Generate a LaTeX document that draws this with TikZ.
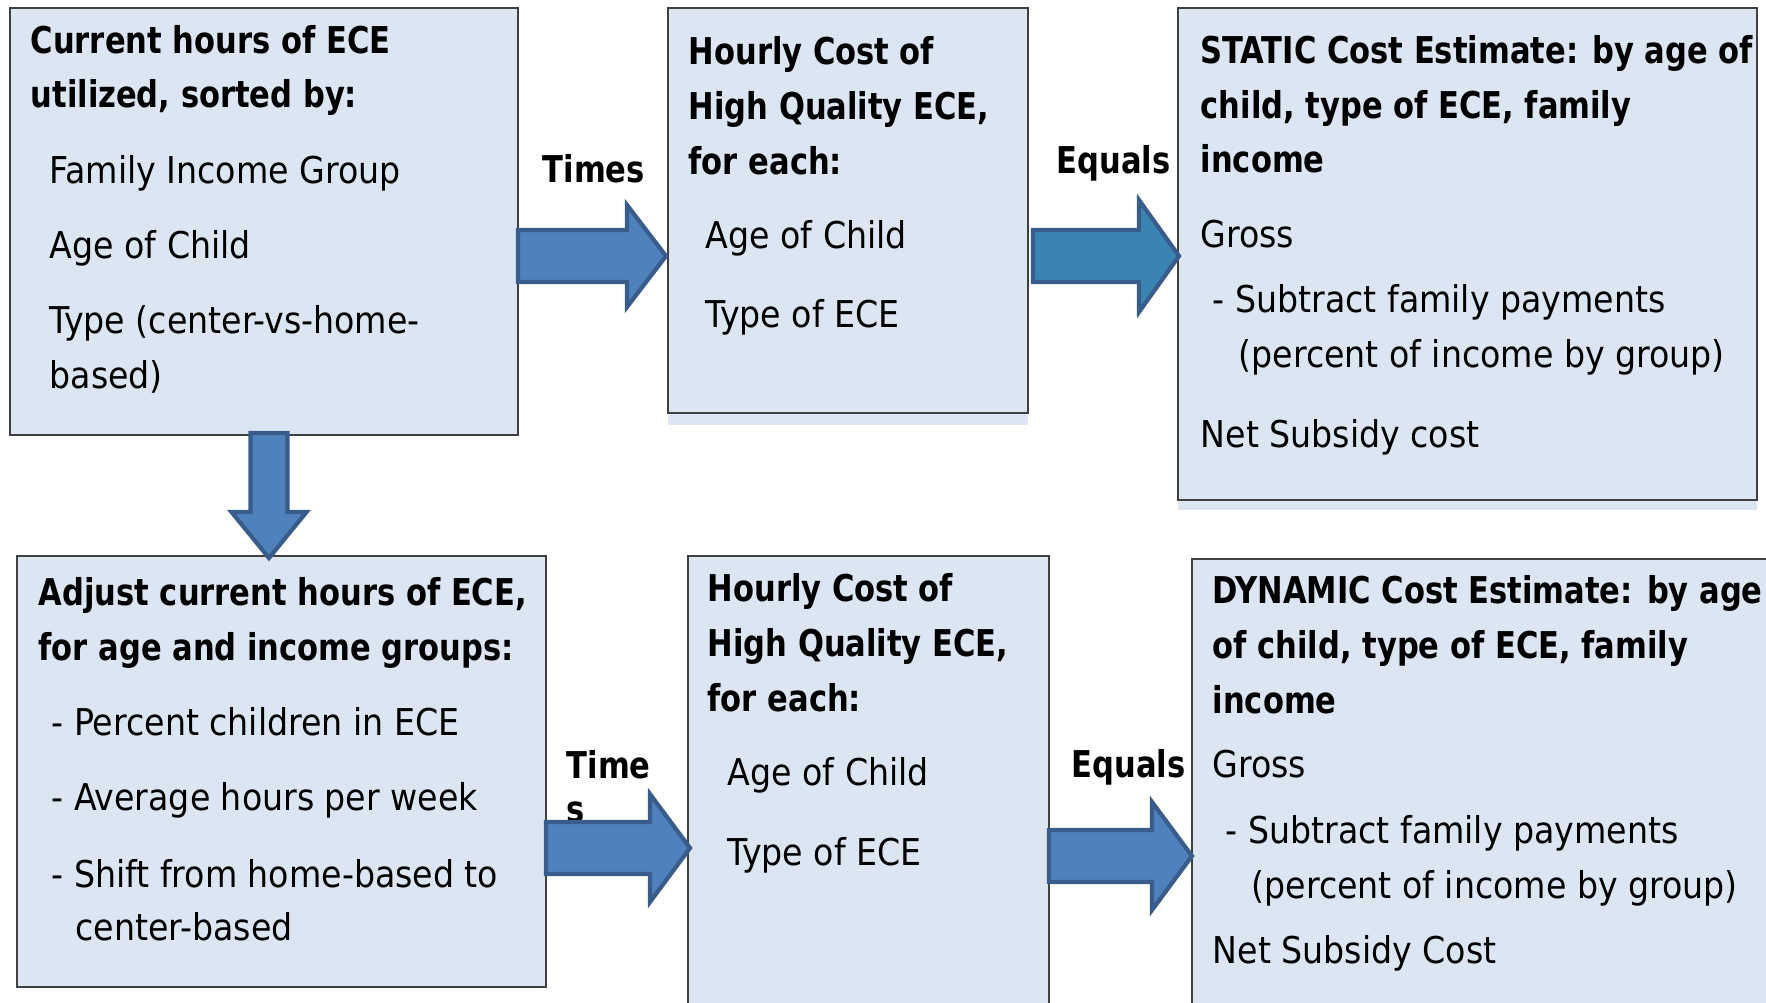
\documentclass[tikz,border=0pt]{standalone}
\usepackage{fontspec}
\setmainfont{DejaVu Sans Condensed}[BoldFeatures={FakeStretch=0.92}]
\usetikzlibrary{calc}

\definecolor{boxfill}{RGB}{220,230,242}
\definecolor{boxline}{RGB}{64,64,64}
\definecolor{arrfill}{RGB}{79,129,189}
\definecolor{arrteal}{RGB}{58,132,180}
\definecolor{arrline}{RGB}{56,93,138}

\tikzset{
  box/.style={draw=boxline,fill=boxfill,line width=0.6pt,inner sep=0pt,outer sep=0pt},
  shade/.style={fill=boxfill,draw=none},
  txt/.style={anchor=base west,inner sep=0pt,font=\fontsize{10.5}{12}\selectfont},
  hd/.style={txt,font=\fontsize{10.5}{12}\selectfont\bfseries},
  barrow/.style={draw=arrline,line width=1.2pt,line join=miter}
}

% right block arrow: fill, start, tip, shaft half, head half, head length
\newcommand{\rarrow}[6]{%
  \draw[barrow,fill=#1] ($(#2)+(0,-#4)$) -- ($(#3)+(-#6,-#4)$) -- ($(#3)+(-#6,-#5)$) -- (#3)
    -- ($(#3)+(-#6,#5)$) -- ($(#3)+(-#6,#4)$) -- ($(#2)+(0,#4)$) -- cycle;}

\begin{document}
\begin{tikzpicture}[x=0.01cm,y=-0.01cm]
        \useasboundingbox (0,0) rectangle (1766,1002);

        \coordinate (t1s) at (518,256);
        \coordinate (t1e) at (666,256);
        \coordinate (e1s) at (1033,256);
        \coordinate (e1e) at (1179,256);
        \coordinate (t2s) at (546,848);
        \coordinate (t2e) at (690,848);
        \coordinate (e2s) at (1049,856);
        \coordinate (e2e) at (1192,856);
        \coordinate (ds) at (269,433);
        \coordinate (de) at (269,558);

        % top row
        \node[box,minimum width=5.08cm,minimum height=4.27cm] (cur) at (264,221.5) {};
        \path[shade] (668,413) rectangle (1028,425);
        \node[box,minimum width=3.60cm,minimum height=4.05cm] (hc1) at (848,210.5) {};
        \path[shade] (1178,500) rectangle (1757,510);
        \node[box,minimum width=5.79cm,minimum height=4.92cm] (stat) at (1467.5,254) {};

        \node[hd] (cur1) at (30,53) {Current hours of ECE};
        \node[hd] (cur2) at (30,107) {utilized, sorted by:};
        \node[txt] (cur3) at (49,183) {Family Income Group};
        \node[txt] (cur4) at (49,258) {Age of Child};
        \node[txt] (cur5) at (49,333) {Type (center-vs-home-};
        \node[txt] (cur6) at (49,388) {based)};

        \node[hd] (hca1) at (688,64) {Hourly Cost of};
        \node[hd] (hca2) at (688,119) {High Quality ECE,};
        \node[hd] (hca3) at (688,174) {for each:};
        \node[txt] (hca4) at (705,248) {Age of Child};
        \node[txt] (hca5) at (705,327) {Type of ECE};

        \node[hd] (stat1) at (1200,63) {STATIC Cost Estimate: by age of};
        \node[hd] (stat2) at (1200,118) {child, type of ECE, family};
        \node[hd] (stat3) at (1200,172) {income};
        \node[txt] (stat4) at (1200,247) {Gross};
        \node[txt] (stat5) at (1212,312) {- Subtract family payments};
        \node[txt] (stat6) at (1238,367) {(percent of income by group)};
        \node[txt] (stat7) at (1200,447) {Net Subsidy cost};

        \node[hd] (times1) at (542,182) {Times};
        \node[hd] (eq1) at (1056,173) {Equals};

        \rarrow{arrfill}{t1s}{t1e}{26}{51}{39}
        \rarrow{arrteal}{e1s}{e1e}{26}{56}{40}

        % bottom row
        \node[box,minimum width=5.29cm,minimum height=4.31cm] (adj) at (281.5,771.5) {};
        \node[box,minimum width=3.61cm,minimum height=4.54cm] (hc2) at (868.5,783) {};
        \node[box,minimum width=5.83cm,minimum height=4.51cm] (dyn) at (1483.5,784.5) {};

        \node[hd] (adj1) at (38,605) {Adjust current hours of ECE,};
        \node[hd] (adj2) at (38,660) {for age and income groups:};
        \node[txt] (adj3) at (51,735) {- Percent children in ECE};
        \node[txt] (adj4) at (51,810) {- Average hours per week};
        \node[txt] (adj5) at (51,887) {- Shift from home-based to};
        \node[txt] (adj6) at (75,940) {center-based};

        \node[hd] (hcb1) at (707,601) {Hourly Cost of};
        \node[hd] (hcb2) at (707,656) {High Quality ECE,};
        \node[hd] (hcb3) at (707,711) {for each:};
        \node[txt] (hcb4) at (727,785) {Age of Child};
        \node[txt] (hcb5) at (727,865) {Type of ECE};

        \node[hd] (dyn1) at (1212,603) {DYNAMIC Cost Estimate: by age};
        \node[hd] (dyn2) at (1212,658) {of child, type of ECE, family};
        \node[hd] (dyn3) at (1212,713) {income};
        \node[txt] (dyn4) at (1212,777) {Gross};
        \node[txt] (dyn5) at (1225,843) {- Subtract family payments};
        \node[txt] (dyn6) at (1251,898) {(percent of income by group)};
        \node[txt] (dyn7) at (1212,963) {Net Subsidy Cost};

        \node[hd] (times2) at (566,778) {Time};
        \node[hd] (times3) at (566,822) {s};
        \node[hd] (eq2) at (1071,777) {Equals};

        \rarrow{arrfill}{t2s}{t2e}{26}{54}{40}
        \rarrow{arrfill}{e2s}{e2e}{26}{54}{40}

        % down arrow
        \draw[barrow,fill=arrfill] ($(ds)+(-18.5,0)$) -- ($(de)+(-18.5,-46)$) -- ($(de)+(-37.5,-46)$) -- (de)
          -- ($(de)+(37.5,-46)$) -- ($(de)+(18.5,-46)$) -- ($(ds)+(18.5,0)$) -- cycle;
    \end{tikzpicture}
\end{document}
